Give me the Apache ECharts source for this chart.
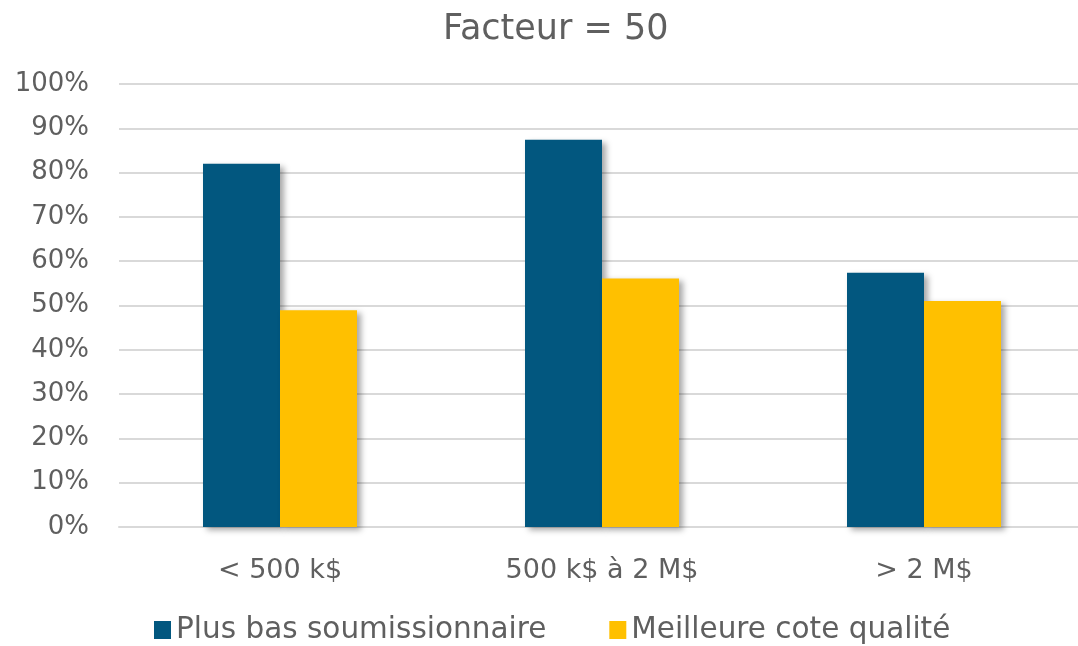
<!DOCTYPE html>
<html>
<head>
<meta charset="utf-8">
<script src="https://cdn.jsdelivr.net/npm/echarts@6/dist/echarts.min.js"></script>
<style>
  html, body { margin: 0; padding: 0; background: #fff; }
  #chart { width: 1078px; height: 646px; }
</style>
</head>
<body>
<div id="chart"></div>
<script>
const categories = ['< 500 k$', '500 k$ à 2 M$', '> 2 M$'];
const seriesNames = ['Plus bas soumissionnaire', 'Meilleure cote qualité'];
const plusBas = [82, 87.4, 57.4];
const meilleureCote = [48.9, 56.1, 51];
const colors = ['#02577F', '#FFC000'];

const fontFamily = '"DejaVu Sans", sans-serif';
const textColor = '#5f5f5f';

const chart = echarts.init(document.getElementById('chart'));

const barShadow = {
  shadowBlur: 6,
  shadowOffsetX: 4,
  shadowOffsetY: 3,
  shadowColor: 'rgba(0, 0, 0, 0.35)',
};

chart.setOption({
  backgroundColor: '#fff',
  animation: false,
  title: {
    text: 'Facteur = 50',
    left: 438,
    top: 7,
    textStyle: { fontFamily, fontSize: 35, fontWeight: 'normal', color: textColor },
  },
  legend: {
    bottom: -4,
    left: 149,
    itemGap: 63,
    itemWidth: 17,
    itemHeight: 18,
    icon: 'rect',
    textStyle: { fontFamily, fontSize: 29.5, fontWeight: 'normal', color: textColor },
    data: seriesNames,
  },
  grid: {
    left: 119,
    width: 966,
    top: 84,
    bottom: 119,
    outerBoundsMode: 'none',
    containLabel: false,
  },
  xAxis: {
    type: 'category',
    data: categories,
    axisLine: { show: true, lineStyle: { color: '#d9d9d9', width: 2 } },
    axisTick: { show: false },
    axisLabel: { fontFamily, fontSize: 27, color: textColor, margin: 30 },
  },
  yAxis: {
    type: 'value',
    min: 0,
    max: 100,
    interval: 10,
    axisLine: { show: false },
    axisTick: { show: false },
    axisLabel: {
      fontFamily, fontSize: 26, color: textColor, margin: 30,
      formatter: (v) => v + '%',
    },
    splitLine: { lineStyle: { color: '#d9d9d9', width: 2 } },
  },
  series: [
    {
      name: seriesNames[0],
      type: 'bar',
      data: plusBas,
      barWidth: 77,
      barGap: '0%',
      itemStyle: Object.assign({ color: colors[0] }, barShadow),
    },
    {
      name: seriesNames[1],
      type: 'bar',
      data: meilleureCote,
      barWidth: 77,
      barGap: '0%',
      itemStyle: Object.assign({ color: colors[1] }, barShadow),
    },
  ],
});
</script>
</body>
</html>
